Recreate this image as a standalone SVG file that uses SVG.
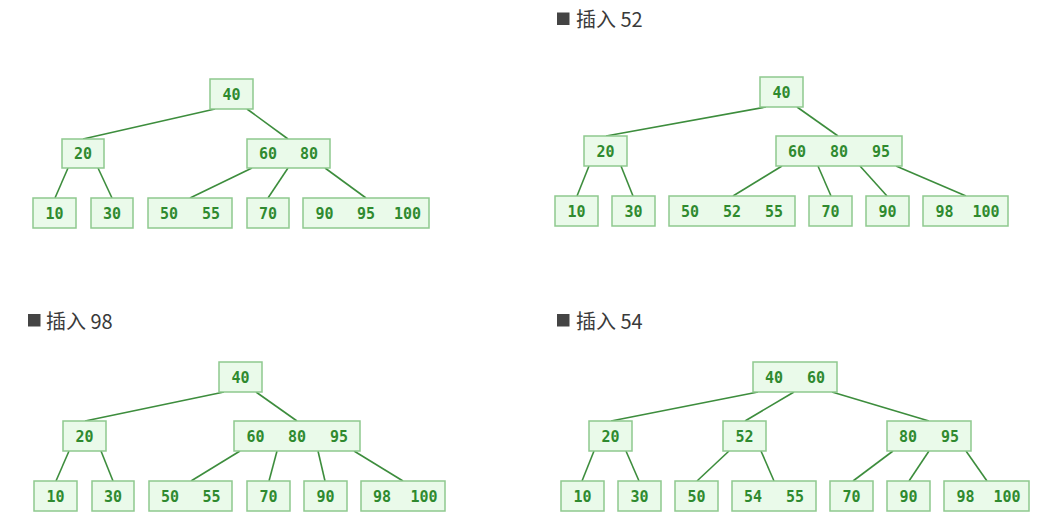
<svg xmlns="http://www.w3.org/2000/svg" width="1044" height="525" viewBox="0 0 1044 525">
<style>
.b{fill:#eafaea;stroke:#8ec98e;stroke-width:1.5}
.k{font-family:"DejaVu Sans Mono","Liberation Mono",monospace;font-size:15px;font-weight:bold;fill:#2f8a2f;text-anchor:middle}
.e line{stroke:#3d8d3d;stroke-width:1.6}
.t{font-family:"Noto Sans CJK SC","Noto Sans",sans-serif;font-size:20px;fill:#3a3a3a}
.sq{fill:#444}
</style>
<rect width="1044" height="525" fill="#fff"/>
<!-- titles -->
<g id="title2"><rect class="sq" x="557" y="12.5" width="12.5" height="12.5"/><text class="t" x="576" y="27">插入 52</text></g>
<g id="title3"><rect class="sq" x="28" y="314" width="12.5" height="12.5"/><text class="t" x="46" y="329">插入 98</text></g>
<g id="title4"><rect class="sq" x="557" y="314" width="12.5" height="12.5"/><text class="t" x="576" y="329">插入 54</text></g>

<g id="connectors" class="e">
<!-- tree 1 -->
<line x1="215" y1="109" x2="83" y2="139"/>
<line x1="247" y1="109" x2="288" y2="139"/>
<line x1="68" y1="168" x2="55" y2="198"/>
<line x1="98" y1="168" x2="112" y2="198"/>
<line x1="252" y1="168" x2="190" y2="198"/>
<line x1="288" y1="168" x2="268" y2="198"/>
<line x1="325" y1="168" x2="366" y2="198"/>
<!-- tree 2 -->
<line x1="766" y1="107" x2="606" y2="136"/>
<line x1="797" y1="107" x2="838" y2="136"/>
<line x1="589" y1="166" x2="577" y2="196"/>
<line x1="621" y1="166" x2="633" y2="196"/>
<line x1="782" y1="166" x2="733" y2="196"/>
<line x1="818" y1="166" x2="831" y2="196"/>
<line x1="860" y1="166" x2="887" y2="196"/>
<line x1="896" y1="166" x2="966" y2="196"/>
<!-- tree 3 -->
<line x1="224" y1="392" x2="85" y2="421"/>
<line x1="256" y1="392" x2="297" y2="421"/>
<line x1="69" y1="451" x2="56" y2="481"/>
<line x1="101" y1="451" x2="113" y2="481"/>
<line x1="240" y1="451" x2="191" y2="481"/>
<line x1="277" y1="451" x2="269" y2="481"/>
<line x1="318" y1="451" x2="325" y2="481"/>
<line x1="354" y1="451" x2="403" y2="481"/>
<!-- tree 4 -->
<line x1="758" y1="392" x2="611" y2="421"/>
<line x1="794" y1="392" x2="745" y2="421"/>
<line x1="832" y1="392" x2="929" y2="421"/>
<line x1="594" y1="451" x2="582" y2="481"/>
<line x1="626" y1="451" x2="639" y2="481"/>
<line x1="729" y1="451" x2="697" y2="481"/>
<line x1="761" y1="451" x2="774" y2="481"/>
<line x1="893" y1="451" x2="853" y2="481"/>
<line x1="929" y1="451" x2="909" y2="481"/>
<line x1="966" y1="451" x2="987" y2="481"/>
</g>

<!-- tree 1 -->
<g id="t1_40"><rect class="b" x="210" y="79" width="43" height="30"/><text class="k" x="231.5" y="99.5">40</text></g>
<g id="t1_20"><rect class="b" x="62" y="139" width="42" height="29"/><text class="k" x="83" y="159">20</text></g>
<g id="t1_60_80"><rect class="b" x="247" y="139" width="83" height="29"/><text class="k" x="268" y="159">60</text><text class="k" x="309" y="159">80</text></g>
<g id="t1_10"><rect class="b" x="33" y="198" width="43" height="30"/><text class="k" x="54.5" y="218.5">10</text></g>
<g id="t1_30"><rect class="b" x="91" y="198" width="42" height="30"/><text class="k" x="112" y="218.5">30</text></g>
<g id="t1_50_55"><rect class="b" x="148" y="198" width="84" height="30"/><text class="k" x="169" y="218.5">50</text><text class="k" x="211" y="218.5">55</text></g>
<g id="t1_70"><rect class="b" x="247" y="198" width="42" height="30"/><text class="k" x="268" y="218.5">70</text></g>
<g id="t1_90_95_100"><rect class="b" x="303" y="198" width="126" height="30"/><text class="k" x="324.5" y="218.5">90</text><text class="k" x="366" y="218.5">95</text><text class="k" x="407.5" y="218.5">100</text></g>

<!-- tree 2 -->
<g id="t2_40"><rect class="b" x="760" y="77" width="43" height="30"/><text class="k" x="781.5" y="97.5">40</text></g>
<g id="t2_20"><rect class="b" x="584" y="136" width="43" height="30"/><text class="k" x="605.5" y="156.5">20</text></g>
<g id="t2_60_80_95"><rect class="b" x="776" y="136" width="126" height="30"/><text class="k" x="797" y="156.5">60</text><text class="k" x="839" y="156.5">80</text><text class="k" x="881" y="156.5">95</text></g>
<g id="t2_10"><rect class="b" x="555" y="196" width="43" height="30"/><text class="k" x="576.5" y="216.5">10</text></g>
<g id="t2_30"><rect class="b" x="612" y="196" width="43" height="30"/><text class="k" x="633.5" y="216.5">30</text></g>
<g id="t2_50_52_55"><rect class="b" x="669" y="196" width="126" height="30"/><text class="k" x="690" y="216.5">50</text><text class="k" x="732" y="216.5">52</text><text class="k" x="774" y="216.5">55</text></g>
<g id="t2_70"><rect class="b" x="809" y="196" width="43" height="30"/><text class="k" x="830.5" y="216.5">70</text></g>
<g id="t2_90"><rect class="b" x="866" y="196" width="43" height="30"/><text class="k" x="887.5" y="216.5">90</text></g>
<g id="t2_98_100"><rect class="b" x="923" y="196" width="85" height="30"/><text class="k" x="944.5" y="216.5">98</text><text class="k" x="986" y="216.5">100</text></g>

<!-- tree 3 -->
<g id="t3_40"><rect class="b" x="219" y="362" width="43" height="30"/><text class="k" x="240.5" y="382.5">40</text></g>
<g id="t3_20"><rect class="b" x="63" y="421" width="43" height="30"/><text class="k" x="84.5" y="441.5">20</text></g>
<g id="t3_60_80_95"><rect class="b" x="234" y="421" width="126" height="30"/><text class="k" x="255.5" y="441.5">60</text><text class="k" x="297" y="441.5">80</text><text class="k" x="339" y="441.5">95</text></g>
<g id="t3_10"><rect class="b" x="34" y="481" width="43" height="30"/><text class="k" x="55.5" y="501.5">10</text></g>
<g id="t3_30"><rect class="b" x="92" y="481" width="42" height="30"/><text class="k" x="113" y="501.5">30</text></g>
<g id="t3_50_55"><rect class="b" x="149" y="481" width="83" height="30"/><text class="k" x="170" y="501.5">50</text><text class="k" x="211.5" y="501.5">55</text></g>
<g id="t3_70"><rect class="b" x="247" y="481" width="43" height="30"/><text class="k" x="268.5" y="501.5">70</text></g>
<g id="t3_90"><rect class="b" x="304" y="481" width="43" height="30"/><text class="k" x="325.5" y="501.5">90</text></g>
<g id="t3_98_100"><rect class="b" x="361" y="481" width="84" height="30"/><text class="k" x="382" y="501.5">98</text><text class="k" x="424" y="501.5">100</text></g>

<!-- tree 4 -->
<g id="t4_40_60"><rect class="b" x="753" y="362" width="84" height="30"/><text class="k" x="774" y="382.5">40</text><text class="k" x="816" y="382.5">60</text></g>
<g id="t4_20"><rect class="b" x="589" y="421" width="43" height="30"/><text class="k" x="610.5" y="441.5">20</text></g>
<g id="t4_52"><rect class="b" x="723" y="421" width="43" height="30"/><text class="k" x="744.5" y="441.5">52</text></g>
<g id="t4_80_95"><rect class="b" x="887" y="421" width="84" height="30"/><text class="k" x="908" y="441.5">80</text><text class="k" x="950" y="441.5">95</text></g>
<g id="t4_10"><rect class="b" x="561" y="481" width="43" height="30"/><text class="k" x="582.5" y="501.5">10</text></g>
<g id="t4_30"><rect class="b" x="618" y="481" width="43" height="30"/><text class="k" x="639.5" y="501.5">30</text></g>
<g id="t4_50"><rect class="b" x="675" y="481" width="43" height="30"/><text class="k" x="696.5" y="501.5">50</text></g>
<g id="t4_54_55"><rect class="b" x="732" y="481" width="84" height="30"/><text class="k" x="753" y="501.5">54</text><text class="k" x="795" y="501.5">55</text></g>
<g id="t4_70"><rect class="b" x="830" y="481" width="43" height="30"/><text class="k" x="851.5" y="501.5">70</text></g>
<g id="t4_90"><rect class="b" x="887" y="481" width="43" height="30"/><text class="k" x="908.5" y="501.5">90</text></g>
<g id="t4_98_100"><rect class="b" x="944" y="481" width="85" height="30"/><text class="k" x="965.5" y="501.5">98</text><text class="k" x="1007" y="501.5">100</text></g>
</svg>
